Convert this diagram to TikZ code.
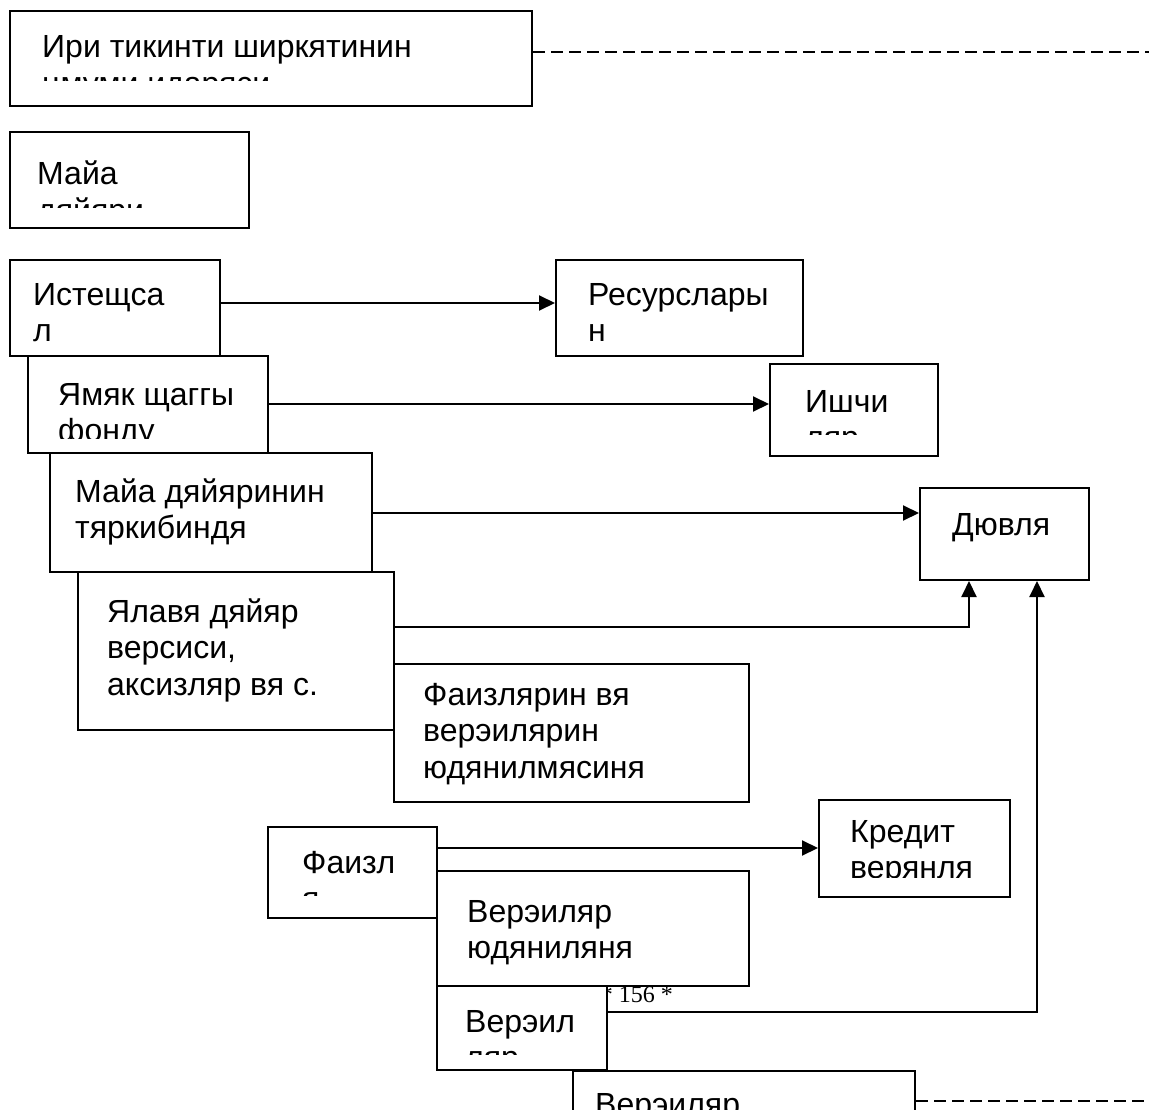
\documentclass[tikz,border=0pt]{standalone}
\usepackage{fontspec}
\setmainfont{Liberation Sans}
\newfontfamily\seriffont{Liberation Serif}
\usepackage{tikz}
\usetikzlibrary{arrows.meta}

\tikzset{
  kasten/.style={draw, fill=white, line width=2pt, inner sep=0pt, anchor=north west},
  beschr/.style={anchor=base west, align=left, inner sep=0pt, font=\fontsize{32}{36.5}\selectfont},
  pfeil/.style={line width=2pt, -{Triangle[length=16pt,width=15pt]}},
  strich/.style={line width=2pt, dash pattern=on 12pt off 6pt},
}

\begin{document}
\begin{tikzpicture}[x=1pt,y=-1pt]
            \useasboundingbox (0,0) rectangle (1149,1110);
            \clip (0,0) rectangle (1149,1110);
            \fill[white] (0,0) rectangle (1149,1110);

            % Kaesten oben (Grundlinie = letzte Zeile)
            \node[kasten, minimum width=522pt, minimum height=95pt] (iri) at (9,10) {};
            \begin{scope}
              \clip (9,10) rectangle (531,81);
              \node[beschr] (iritext) at (42,94.5) {Ири тикинти ширкятинин\\цмуми идаряси};
            \end{scope}

            \node[kasten, minimum width=239pt, minimum height=96pt] (maya) at (9,131) {};
            \begin{scope}
              \clip (9,131) rectangle (248,208);
              \node[beschr] (mayatext) at (37,221.5) {Майа\\дяйяри};
            \end{scope}

            % linke Staffel
            \node[kasten, minimum width=210pt, minimum height=96pt] (ist) at (9,259) {};
            \node[beschr] (isttext) at (33,341.5) {Истещса\\л};

            \node[kasten, minimum width=247pt, minimum height=96pt] (res) at (555,259) {};
            \node[beschr] (restext) at (588,341.5) {Ресурслары\\н};

            \node[kasten, minimum width=240pt, minimum height=97pt] (yamyak) at (27,355) {};
            \begin{scope}
              \clip (27,355) rectangle (267,438);
              \node[beschr] (yamyaktext) at (58,441.5) {Ямяк щаггы\\фонду};
            \end{scope}

            \node[kasten, minimum width=168pt, minimum height=92pt] (ishchi) at (769,363) {};
            \begin{scope}
              \clip (769,363) rectangle (937,434);
              \node[beschr] (ishchitext) at (805,448.5) {Ишчи\\ляр};
            \end{scope}

            \node[kasten, minimum width=322pt, minimum height=119pt] (mdt) at (49,452) {};
            \node[beschr] (mdttext) at (75,538.5) {Майа дяйяринин\\тяркибиндя};

            \node[kasten, minimum width=169pt, minimum height=92pt] (dov) at (919,487) {};
            \node[beschr] (dovtext) at (952,535) {Дювля};

            \node[kasten, minimum width=316pt, minimum height=158pt] (yal) at (77,571) {};
            \node[beschr] (yaltext) at (107,695) {Ялавя дяйяр\\версиси,\\аксизляр вя с.};

            \node[kasten, minimum width=355pt, minimum height=138pt] (faiz) at (393,663) {};
            \node[beschr] (faiztext) at (423,778) {Фаизлярин вя\\верэилярин\\юдянилмясиня};

            % untere Gruppe
            \node[kasten, minimum width=169pt, minimum height=91pt] (fai) at (267,826) {};
            \begin{scope}
              \clip (267,826) rectangle (436,895);
              \node[beschr] (faitext) at (302,909.5) {Фаизл\\я};
            \end{scope}

            \node[kasten, minimum width=191pt, minimum height=97pt] (kred) at (818,799) {};
            \begin{scope}
              \clip (818,799) rectangle (1009,877);
              \node[beschr] (kredtext) at (850,878.5) {Кредит\\верянля};
            \end{scope}

            \node[kasten, minimum width=312pt, minimum height=115pt] (verud) at (436,870) {};
            \node[beschr] (verudtext) at (467,958.5) {Верэиляр\\юдяниляня};

            \node[anchor=base east, inner sep=0pt, font=\seriffont\fontsize{24}{24}\selectfont] (seite) at (673,1002) {* 156 *};

            \node[kasten, minimum width=170pt, minimum height=84pt] (verel) at (436,985) {};
            \begin{scope}
              \clip (436,985) rectangle (606,1054);
              \node[beschr] (vereltext) at (465,1068.5) {Верэил\\ляр};
            \end{scope}

            \node[kasten, minimum width=342pt, minimum height=70pt] (verk) at (572,1070) {};
            \node[beschr] (verktext) at (595,1115) {Верэиляр};

            % Pfeile
            \draw[pfeil] (ist.east |- 0,303) -- (res.west |- 0,303);
            \draw[pfeil] (yamyak.east |- 0,404) -- (ishchi.west |- 0,404);
            \draw[pfeil] (mdt.east |- 0,513) -- (dov.west |- 0,513);
            \draw[pfeil] (yal.east |- 0,627) -| (dov.south -| 969,0);
            \draw[pfeil] (fai.east |- 0,848) -- (kred.west |- 0,848);
            \draw[pfeil] (verel.east |- 0,1012) -| (dov.south -| 1037,0);

            % gestrichelte Linien
            \coordinate (rand1) at (1149,52);
            \coordinate (rand2) at (1149,1101);
            \draw[strich] (iri.east |- rand1) -- (rand1);
            \draw[strich] (verk.east |- rand2) -- (rand2);
\end{tikzpicture}
\end{document}
